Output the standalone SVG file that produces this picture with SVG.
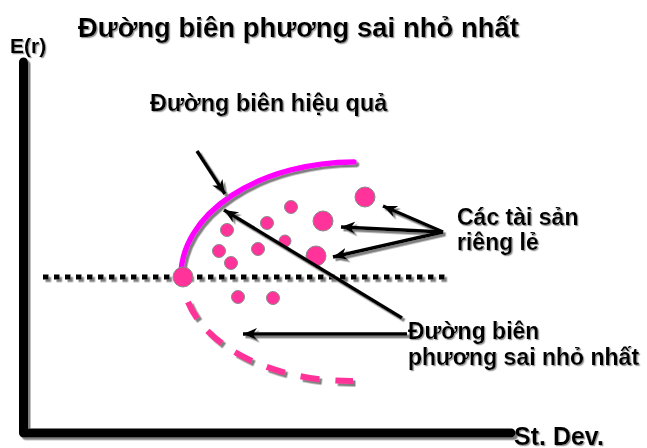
<svg xmlns="http://www.w3.org/2000/svg" width="647" height="448" viewBox="0 0 647 448">
<defs>
<filter id="sh" filterUnits="userSpaceOnUse" x="0" y="0" width="647" height="448"><feDropShadow dx="2.5" dy="2.5" stdDeviation="0" flood-color="#808080" flood-opacity="1"/></filter>
<filter id="tsh" filterUnits="userSpaceOnUse" x="0" y="0" width="647" height="448"><feDropShadow dx="1.2" dy="1.2" stdDeviation="0.3" flood-color="#9a9a9a" flood-opacity="1"/></filter>
<marker id="ah" markerUnits="userSpaceOnUse" markerWidth="16" markerHeight="14" refX="14" refY="6" orient="auto"><path d="M0,0 L14,6 L0,12 L4,6 Z" fill="#000"/></marker>
<style>
text{font-family:"Liberation Sans",Arial,sans-serif;font-weight:bold;fill:#000}
.arr{stroke:#000;stroke-width:3.5;fill:none;marker-end:url(#ah)}
.dot{fill:#FF3399;stroke:#8a8a8a;stroke-width:1}
</style>
</defs>
<g id="axes" filter="url(#sh)">
<path d="M23.5,62 V433 H511" fill="none" stroke="#000" stroke-width="9" stroke-linecap="round" stroke-linejoin="round"/>
</g>
<g id="labels" filter="url(#tsh)">
<text x="10" y="53" font-size="21">E(r)</text>
<text x="78" y="37" font-size="27.5">Đường biên phương sai nhỏ nhất</text>
<text x="514" y="445" font-size="25">St. Dev.</text>
</g>
<g id="mvline" filter="url(#sh)">
<path d="M43,277 H448" stroke="#000" stroke-width="5" stroke-dasharray="5.5 5.5"/>
</g>
<g id="efficient-frontier" filter="url(#sh)">
<path d="M181,276 A174,114 0 0 1 354,162" fill="none" stroke="#FF00FF" stroke-width="5.5" stroke-linecap="round"/>
</g>
<g id="lower-frontier" filter="url(#sh)">
<path d="M188,302 A168,105 0 0 0 353,381" fill="none" stroke="#FF3399" stroke-width="6" stroke-dasharray="19 16"/>
</g>
<g id="assets">
<circle class="dot" cx="365" cy="197" r="10"/>
<circle class="dot" cx="291" cy="207" r="6.5"/>
<circle class="dot" cx="323" cy="221" r="10"/>
<circle class="dot" cx="267" cy="223" r="6.5"/>
<circle class="dot" cx="227" cy="230" r="6.5"/>
<circle class="dot" cx="285" cy="241" r="6"/>
<circle class="dot" cx="258" cy="249" r="6.5"/>
<circle class="dot" cx="219" cy="251" r="6.5"/>
<circle class="dot" cx="316" cy="256" r="10"/>
<circle class="dot" cx="231" cy="263" r="6.5"/>
<circle class="dot" cx="183" cy="277" r="10"/>
<circle class="dot" cx="238" cy="297" r="6.5"/>
<circle class="dot" cx="273" cy="298" r="6.5"/>
</g>
<g id="connectors" filter="url(#sh)">
<line class="arr" x1="197" y1="151" x2="225" y2="194"/>
<line class="arr" x1="402" y1="318" x2="224" y2="210"/>
<line class="arr" x1="407" y1="334" x2="243" y2="334"/>
<line class="arr" x1="443" y1="232" x2="383" y2="206"/>
<line class="arr" x1="443" y1="232" x2="341" y2="227"/>
<line class="arr" x1="443" y1="232" x2="333" y2="257"/>
</g>
<g id="text-efficient" filter="url(#tsh)">
<text x="150" y="111" font-size="23.5">Đường biên hiệu quả</text>
</g>
<g id="text-assets" filter="url(#tsh)">
<text x="457" y="225" font-size="23">Các tài sản</text>
<text x="457" y="250" font-size="23">riêng lẻ</text>
</g>
<g id="text-mvf" filter="url(#tsh)">
<text x="408" y="339" font-size="23">Đường biên</text>
<text x="408" y="365" font-size="23">phương sai nhỏ nhất</text>
</g>
</svg>
